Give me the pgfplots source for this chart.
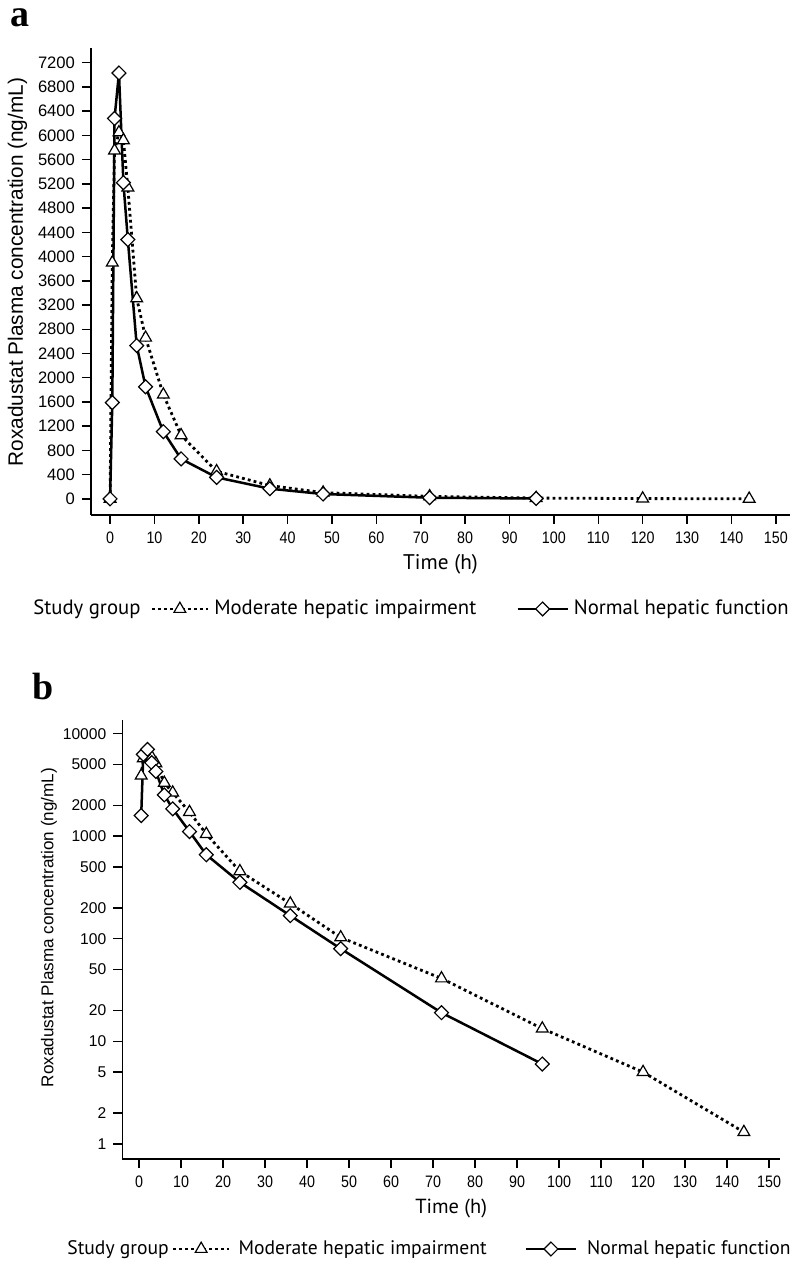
\documentclass[border=0pt]{standalone}
\usepackage{fontspec}
\setmainfont{Liberation Sans}
\newfontfamily\liber{Liberation Sans}
\newfontfamily\libernarrow[FakeStretch=0.86]{Liberation Sans}
\newfontfamily\myriad{PT Sans}
\newfontfamily\timesb{Liberation Serif}
\usepackage{pgfplots}
\usepackage{pgfplotstable}
\pgfplotsset{compat=1.18}

% time (h), concentration (ng/mL)
\pgfplotstableread{
t c
0 0
0.5 3900
1 5750
2 6050
3 5920
4 5140
6 3310
8 2660
12 1720
16 1050
24 455
36 220
48 103
72 41
96 13.3
120 5
144 1.3
}\moderate

\pgfplotstableread{
t c
0 0
0.5 1590
1 6280
2 7030
3 5220
4 4280
6 2530
8 1850
12 1110
16 660
24 355
36 168
48 80
72 19
96 6
}\normalgrp

\pgfplotsset{
  pkbase/.style={
    scale only axis,
    axis lines=left,
    axis line style={-, line width=0.75pt},
    tick align=outside,
    major tick length=4.5pt,
    tick style={line width=0.75pt, black},
    xtick={0,10,...,150},
    /pgf/number format/assume math mode=true,
    /pgf/number format/1000 sep={},
    xticklabel style={font=\libernarrow\fontsize{8.3pt}{9pt}\selectfont, yshift=-0.5pt},
    yticklabel style={font=\liber\fontsize{8.3pt}{9pt}\selectfont},
    xlabel={Time (h)},
    ylabel={Roxadustat Plasma concentration (ng/mL)},
    clip=false,
    legend columns=3,
    legend cell align=left,
  },
  modline/.style={black, line width=1.4pt, dash pattern=on 1.4pt off 1.6pt,
    mark=triangle*, mark size=3.4pt,
    mark options={solid, fill=white, line width=0.6pt},
    legend image code/.code={\draw[mark repeat=2,mark phase=2,##1]
      plot coordinates {(0pt,0pt) (14pt,0pt) (28pt,0pt)};}},
  normline/.style={black, line width=1.25pt,
    mark=square*, mark size=2.45pt,
    mark options={solid, rotate=45, fill=white, line width=0.6pt},
    legend image code/.code={\draw[mark repeat=2,mark phase=2,##1]
      plot coordinates {(0pt,0pt) (12.5pt,0pt) (25pt,0pt)};}},
}

\begin{document}
\begin{tikzpicture}
\useasboundingbox (0,0) rectangle (400pt,632.5pt);

\node[anchor=base west, font=\timesb\bfseries\fontsize{19pt}{20pt}\selectfont, inner sep=0pt] at (5pt,619pt) {a};
\node[anchor=base west, font=\timesb\bfseries\fontsize{19pt}{20pt}\selectfont, inner sep=0pt] at (16pt,282.5pt) {b};

% panel a: linear scale
\begin{axis}[pkbase,
  at={(45.5pt,375pt)}, anchor=south west,
  width=349.5pt, height=233.5pt,
  xmin=-4.3, xmax=153.2, ymin=-266, ymax=7443,
  ytick={0,400,...,7200},
  xlabel style={font=\myriad\fontsize{10.6pt}{12pt}\selectfont, at={(axis description cs:0.5,-0.106)}, anchor=center},
  ylabel style={font=\liber\fontsize{10.4pt}{12pt}\selectfont, at={(axis description cs:-0.105,0.52)}, anchor=center},
  legend style={at={(axis description cs:-0.083,-0.2013)}, anchor=west, draw=none, fill=none,
    inner sep=0pt, column sep=0pt, font=\myriad\fontsize{10.35pt}{12pt}\selectfont,
    nodes={inner sep=0pt}},
]
\addlegendimage{empty legend}
\addlegendentry{Study group\hspace{5pt}\null}
\addplot[modline] table[x=t, y=c] {\moderate};
\addlegendentry{\hspace{2.5pt}Moderate hepatic impairment\hspace{20pt}\null}
\addplot[normline] table[x=t, y=c] {\normalgrp};
\addlegendentry{\hspace{2.5pt}Normal hepatic function}
\end{axis}

% panel b: log scale
\begin{axis}[pkbase,
  at={(61.15pt,53pt)}, anchor=south west,
  width=328.85pt, height=219.5pt,
  xmin=-4.0, xmax=152.6,
  ymode=log, log basis y=10, ymin=0.711, ymax=13600,
  ytick={1,2,5,10,20,50,100,200,500,1000,2000,5000,10000},
  yticklabels={1,2,5,10,20,50,100,200,500,1000,2000,5000,10000},
  yminorticks=false,
  yticklabel style={font=\liber\fontsize{7.8pt}{9pt}\selectfont},
  xlabel style={font=\myriad\fontsize{10.2pt}{12pt}\selectfont, at={(axis description cs:0.5,-0.1116)}, anchor=center},
  ylabel style={font=\liber\fontsize{8.55pt}{10pt}\selectfont, at={(axis description cs:-0.1115,0.527)}, anchor=center},
  legend style={at={(axis description cs:-0.0841,-0.205)}, anchor=west, draw=none, fill=none,
    inner sep=0pt, column sep=0pt, font=\myriad\fontsize{9.8pt}{11pt}\selectfont,
    nodes={inner sep=0pt}},
]
\addlegendimage{empty legend}
\addlegendentry{Study group\hspace{1.5pt}\null}
\addplot[modline, restrict x to domain=0.1:200] table[x=t, y=c] {\moderate};
\addlegendentry{\hspace{4pt}Moderate hepatic impairment\hspace{19pt}\null}
\addplot[normline, restrict x to domain=0.1:200] table[x=t, y=c] {\normalgrp};
\addlegendentry{\hspace{5pt}Normal hepatic function}
\end{axis}
\end{tikzpicture}
\end{document}
